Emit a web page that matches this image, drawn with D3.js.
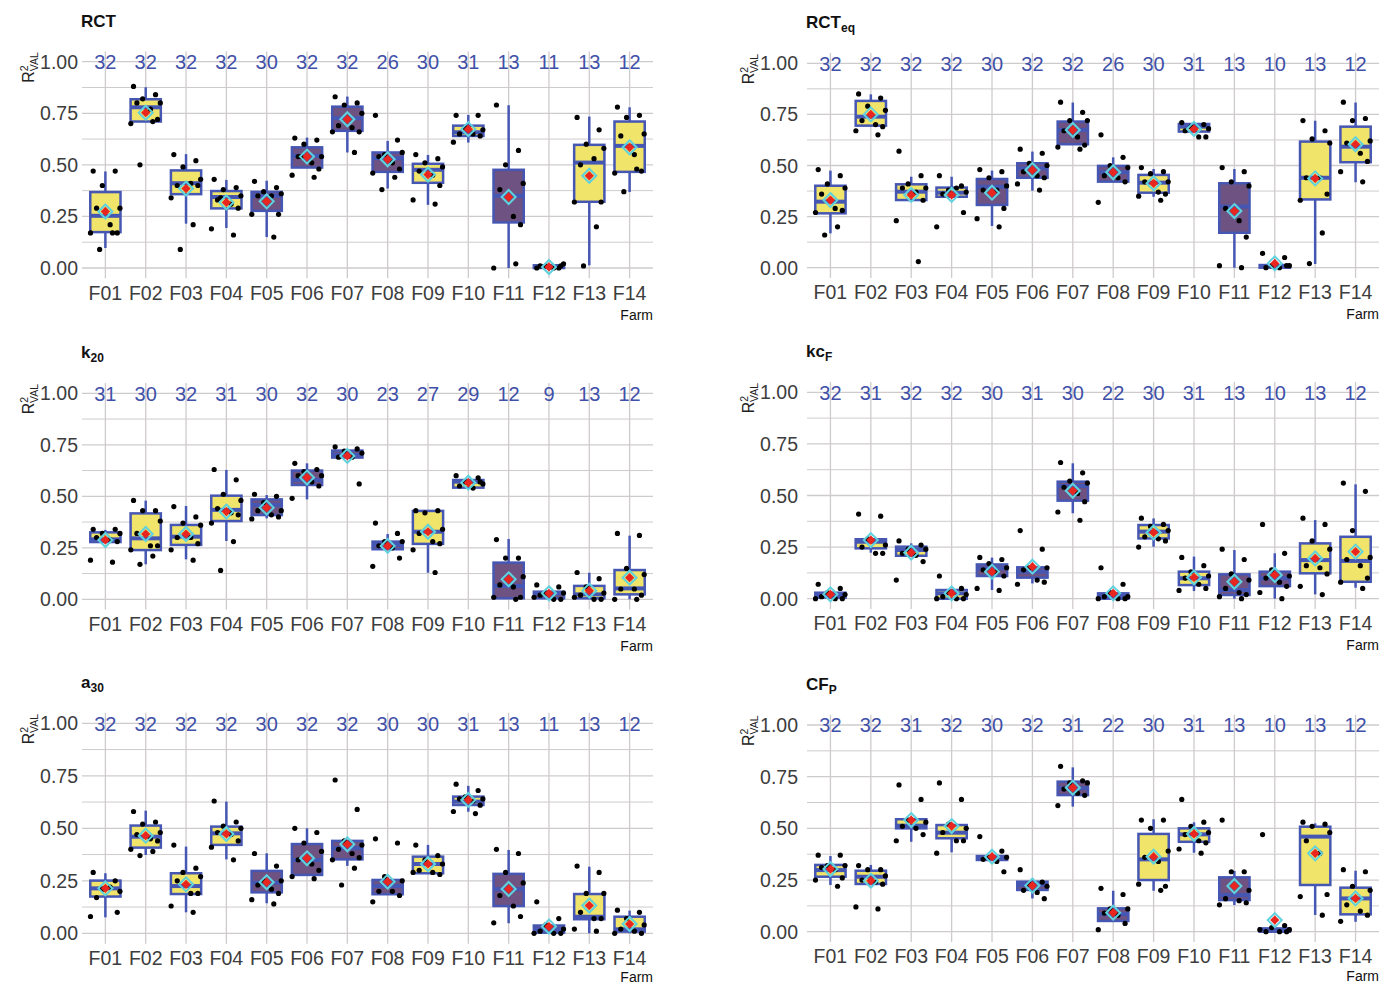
<!DOCTYPE html>
<html><head><meta charset="utf-8">
<script src="https://cdn.jsdelivr.net/npm/d3@7"></script>
<style>body{margin:0;background:#fff}</style>
</head><body>
<svg id="chart" width="1390" height="986"></svg>
<script>
// ---------------- DATA ----------------
const farms = ["F01","F02","F03","F04","F05","F06","F07","F08","F09","F10","F11","F12","F13","F14"];
const farmGroup = ["Y","Y","Y","Y","P","P","P","P","Y","Y","P","P","Y","Y"];
const yTicks = [0, 0.25, 0.5, 0.75, 1];
const yTickLabels = ["0.00","0.25","0.50","0.75","1.00"];
const yMinor = [0.125, 0.375, 0.625, 0.875];
const xAxisTitle = "Farm";

// stats per farm: [lowerWhisker, q1, median, q3, upperWhisker, mean]
const rctCounts = [32,32,32,32,30,32,32,26,30,31,13,11,13,12];
const rctStats = [
  [0.097,0.174,0.253,0.368,0.468,0.274],[0.71,0.71,0.779,0.818,0.876,0.753],[0.215,0.358,0.411,0.473,0.552,0.385],
  [0.194,0.289,0.344,0.373,0.427,0.318],[0.15,0.277,0.35,0.369,0.423,0.323],[0.487,0.487,0.544,0.585,0.632,0.54],
  [0.56,0.665,0.726,0.782,0.831,0.721],[0.385,0.466,0.532,0.56,0.616,0.527],[0.306,0.413,0.476,0.505,0.548,0.453],
  [0.608,0.64,0.658,0.69,0.742,0.673],[0,0.221,0.35,0.476,0.789,0.344],[0,0,0.008,0.013,0.013,0.005],
  [0.013,0.321,0.511,0.597,0.734,0.447],[0.368,0.466,0.592,0.71,0.779,0.585]];
const rctPoints = [
  [0.47,0.47,0.40,0.29,0.29,0.21,0.17,0.17,0.17,0.09],[0.88,0.84,0.82,0.80,0.80,0.77,0.72,0.70,0.71,0.50],
  [0.55,0.52,0.49,0.43,0.40,0.41,0.40,0.34,0.21,0.09],[0.43,0.39,0.38,0.35,0.33,0.31,0.29,0.19,0.16,0.34],
  [0.42,0.39,0.37,0.36,0.35,0.35,0.26,0.26,0.15],[0.63,0.62,0.60,0.54,0.54,0.51,0.48,0.45,0.44,0.54],
  [0.83,0.80,0.79,0.75,0.69,0.68,0.66,0.66,0.56],[0.74,0.62,0.55,0.56,0.54,0.51,0.48,0.46,0.44,0.38],
  [0.55,0.53,0.51,0.49,0.47,0.45,0.40,0.33,0.31],[0.74,0.74,0.68,0.67,0.65,0.65,0.64,0.61],
  [0.79,0.57,0.50,0.41,0.38,0.25,0.21,0.00,0.02],[0.00,0.00,0.01,0.02,0.01,0.00,0.01],
  [0.73,0.67,0.60,0.58,0.50,0.53,0.32,0.32,0.20,0.01],[0.78,0.74,0.73,0.65,0.64,0.55,0.47,0.46,0.48,0.37]];

const rcteqCounts = [32,32,32,32,30,32,32,26,30,31,13,10,13,12];
const rcteqStats = [
  [0.168,0.266,0.323,0.401,0.475,0.331],[0.695,0.695,0.739,0.816,0.848,0.75],[0.331,0.331,0.372,0.408,0.445,0.356],
  [0.347,0.347,0.367,0.392,0.445,0.356],[0.204,0.307,0.396,0.434,0.475,0.367],[0.377,0.44,0.486,0.511,0.568,0.478],
  [0.604,0.604,0.674,0.715,0.808,0.674],[0.421,0.421,0.467,0.498,0.54,0.467],[0.347,0.367,0.416,0.454,0.483,0.413],
  [0.666,0.666,0.69,0.703,0.706,0.679],[0,0.171,0.299,0.413,0.483,0.277],[0,0,0.008,0.013,0.013,0.021],
  [0.018,0.334,0.44,0.617,0.719,0.437],[0.418,0.516,0.592,0.69,0.808,0.604]];
const rcteqPoints = [
  [0.48,0.45,0.41,0.39,0.36,0.29,0.28,0.27,0.20,0.16],[0.85,0.83,0.79,0.77,0.72,0.70,0.69,0.67,0.65],
  [0.57,0.45,0.41,0.39,0.39,0.37,0.33,0.23,0.03],[0.45,0.40,0.38,0.37,0.36,0.39,0.27,0.20],
  [0.48,0.47,0.44,0.40,0.38,0.38,0.29,0.24,0.20],[0.58,0.56,0.51,0.50,0.47,0.45,0.44,0.41,0.38],
  [0.81,0.76,0.72,0.72,0.67,0.64,0.60,0.59,0.58],[0.65,0.54,0.50,0.49,0.45,0.44,0.42,0.32],
  [0.49,0.47,0.46,0.42,0.42,0.37,0.36,0.35,0.33],[0.71,0.70,0.69,0.68,0.67,0.64,0.64],
  [0.49,0.47,0.42,0.40,0.29,0.23,0.15,0.01,0.00],[0.07,0.05,0.01,0.01,0.00,0.00,0.01],
  [0.72,0.67,0.63,0.61,0.44,0.44,0.36,0.33,0.17,0.02],[0.81,0.73,0.72,0.62,0.61,0.56,0.52,0.47,0.42]];

const k20Counts = [31,30,32,31,30,32,30,23,27,29,12,9,13,12];
const k20Stats = [
  [0.278,0.278,0.291,0.325,0.337,0.288],[0.17,0.239,0.296,0.417,0.479,0.317],[0.194,0.264,0.304,0.361,0.453,0.317],
  [0.283,0.38,0.434,0.503,0.628,0.426],[0.393,0.409,0.458,0.485,0.506,0.445],[0.485,0.555,0.579,0.625,0.66,0.591],
  [0.688,0.688,0.701,0.722,0.722,0.696],[0.243,0.243,0.264,0.28,0.317,0.259],[0.129,0.269,0.328,0.429,0.429,0.328],
  [0.542,0.542,0.571,0.579,0.579,0.566],[0.005,0.005,0.065,0.178,0.293,0.097],[0.005,0.005,0.029,0.037,0.037,0.029],
  [0,0.005,0.024,0.065,0.129,0.042],[0,0.024,0.053,0.142,0.309,0.105]];
const k20Points = [
  [0.34,0.34,0.32,0.32,0.30,0.29,0.28,0.19,0.18],[0.48,0.43,0.43,0.38,0.32,0.26,0.26,0.24,0.21,0.17],
  [0.45,0.40,0.37,0.36,0.30,0.30,0.27,0.24,0.19],[0.63,0.58,0.51,0.48,0.44,0.42,0.41,0.37,0.28,0.14],
  [0.51,0.50,0.47,0.43,0.43,0.41,0.40,0.39],[0.66,0.63,0.62,0.60,0.60,0.57,0.55,0.49],
  [0.74,0.73,0.72,0.71,0.69,0.69,0.56],[0.37,0.32,0.28,0.28,0.26,0.25,0.20,0.16],
  [0.43,0.43,0.42,0.34,0.32,0.28,0.27,0.24,0.13],[0.60,0.59,0.57,0.56,0.55,0.54,0.57],
  [0.29,0.20,0.20,0.11,0.07,0.06,0.01,0.01,0.00],[0.07,0.06,0.03,0.03,0.02,0.00,0.00,0.01],
  [0.13,0.10,0.06,0.03,0.02,0.00,0.00,0.01],[0.32,0.31,0.15,0.12,0.05,0.05,0.02,0.00,0.00]];

const kcfCounts = [32,31,32,32,30,31,30,22,30,31,13,10,13,12];
const kcfStats = [
  [0,0.005,0.018,0.029,0.029,0.021],[0.223,0.244,0.276,0.288,0.30,0.284],[0.208,0.208,0.236,0.252,0.268,0.223],
  [0,0,0.026,0.042,0.042,0.026],[0.042,0.11,0.147,0.166,0.199,0.131],[0.074,0.102,0.131,0.152,0.152,0.155],
  [0.414,0.475,0.546,0.567,0.656,0.523],[0,0,0.013,0.026,0.026,0.026],[0.252,0.292,0.325,0.357,0.389,0.321],
  [0.037,0.066,0.099,0.131,0.204,0.103],[0,0.018,0.042,0.118,0.236,0.082],[0,0.061,0.099,0.131,0.22,0.115],
  [0.021,0.123,0.187,0.268,0.381,0.195],[0.053,0.082,0.183,0.30,0.554,0.228]];
const kcfPoints = [
  [0.07,0.05,0.03,0.02,0.01,0.00,0.00,0.00],[0.41,0.40,0.29,0.26,0.25,0.22,0.22],
  [0.28,0.26,0.24,0.24,0.22,0.21,0.18,0.09],[0.11,0.05,0.03,0.02,0.01,0.00,0.00,0.00],
  [0.20,0.19,0.17,0.15,0.14,0.13,0.11,0.05,0.04],[0.33,0.24,0.15,0.15,0.14,0.09,0.08,0.07],
  [0.66,0.61,0.57,0.56,0.54,0.51,0.47,0.42,0.38],[0.15,0.07,0.03,0.01,0.01,0.00,0.00,0.00],
  [0.39,0.36,0.35,0.33,0.30,0.29,0.28,0.25],[0.20,0.16,0.13,0.11,0.10,0.07,0.05,0.04],
  [0.24,0.19,0.12,0.09,0.05,0.03,0.02,0.01,0.00],[0.36,0.22,0.14,0.11,0.10,0.08,0.06,0.03,0.00],
  [0.39,0.36,0.28,0.24,0.16,0.15,0.12,0.06,0.02],[0.56,0.52,0.33,0.20,0.19,0.16,0.10,0.08,0.05]];

const a30Counts = [32,32,32,32,30,32,32,30,30,31,13,11,13,12];
const a30Stats = [
  [0.076,0.175,0.214,0.251,0.286,0.214],[0.373,0.408,0.46,0.513,0.584,0.465],[0.10,0.187,0.225,0.286,0.413,0.233],
  [0.352,0.421,0.476,0.508,0.627,0.473],[0.143,0.195,0.241,0.297,0.381,0.243],[0.278,0.278,0.349,0.425,0.50,0.357],
  [0.321,0.352,0.405,0.44,0.44,0.424],[0.186,0.186,0.225,0.254,0.267,0.246],[0.286,0.286,0.33,0.365,0.421,0.33],
  [0.579,0.611,0.627,0.651,0.702,0.635],[0.048,0.13,0.21,0.283,0.397,0.211],[0.003,0.003,0.019,0.037,0.037,0.032],
  [0,0.067,0.079,0.187,0.317,0.132],[0,0.008,0.019,0.079,0.108,0.044]];
const a30Points = [
  [0.29,0.25,0.21,0.20,0.17,0.22,0.10,0.08],[0.58,0.53,0.52,0.48,0.47,0.45,0.44,0.40,0.39,0.37],
  [0.42,0.31,0.29,0.27,0.25,0.19,0.19,0.13,0.10],[0.63,0.53,0.51,0.50,0.48,0.47,0.44,0.41,0.35],
  [0.38,0.32,0.25,0.25,0.23,0.21,0.19,0.16,0.14],[0.50,0.48,0.43,0.39,0.35,0.33,0.30,0.27,0.26],
  [0.73,0.59,0.44,0.42,0.40,0.38,0.36,0.35,0.31,0.23],[0.45,0.43,0.27,0.25,0.20,0.20,0.18,0.15],
  [0.42,0.37,0.35,0.33,0.30,0.29,0.28,0.29],[0.71,0.68,0.65,0.64,0.64,0.63,0.61,0.58,0.57],
  [0.40,0.38,0.29,0.24,0.18,0.13,0.08,0.05],[0.15,0.07,0.04,0.02,0.01,0.00,0.00,0.00],
  [0.32,0.29,0.19,0.19,0.10,0.07,0.07,0.02,0.01],[0.11,0.10,0.07,0.04,0.02,0.01,0.00,0.00]];

const cfpCounts = [32,32,31,32,30,32,31,22,30,31,13,10,13,12];
const cfpStats = [
  [0.226,0.266,0.298,0.323,0.366,0.303],[0.231,0.231,0.266,0.295,0.323,0.247],[0.435,0.50,0.513,0.544,0.544,0.54],
  [0.384,0.452,0.479,0.516,0.516,0.511],[0.347,0.347,0.358,0.366,0.366,0.363],[0.161,0.202,0.226,0.242,0.258,0.223],
  [0.605,0.661,0.694,0.726,0.795,0.697],[0.052,0.052,0.085,0.113,0.198,0.092],[0.198,0.25,0.35,0.473,0.544,0.363],
  [0.382,0.435,0.471,0.50,0.529,0.473],[0.129,0.153,0.177,0.263,0.294,0.221],[0,0,0.005,0.016,0.016,0.056],
  [0.081,0.226,0.46,0.508,0.524,0.379],[0.048,0.084,0.161,0.213,0.295,0.161]];
const cfpPoints = [
  [0.37,0.37,0.32,0.32,0.31,0.30,0.26,0.25,0.22],[0.32,0.30,0.30,0.27,0.25,0.24,0.23,0.12,0.11],
  [0.71,0.64,0.54,0.53,0.51,0.50,0.47,0.44],[0.72,0.64,0.52,0.50,0.48,0.44,0.44,0.38],
  [0.46,0.39,0.36,0.36,0.35,0.34,0.29],[0.30,0.24,0.23,0.22,0.20,0.19,0.16],
  [0.80,0.73,0.72,0.72,0.69,0.67,0.66,0.61],[0.21,0.18,0.11,0.11,0.09,0.08,0.04,0.01],
  [0.54,0.54,0.50,0.39,0.36,0.34,0.22,0.23,0.20],[0.64,0.53,0.51,0.48,0.47,0.44,0.43,0.40,0.38],
  [0.54,0.29,0.29,0.20,0.16,0.15,0.14,0.13],[0.47,0.03,0.02,0.01,0.00,0.00,0.00,0.01],
  [0.53,0.52,0.51,0.48,0.44,0.38,0.18,0.17,0.08],[0.30,0.29,0.22,0.20,0.13,0.10,0.08,0.05]];

const panelTitles = [["RCT",""],["RCT","eq"],["k","20"],["kc","F"],["a","30"],["CF","P"]];

// ---------------- LAYOUT / STYLE ----------------
const panels = [
  {title: panelTitles[0], counts: rctCounts,   stats: rctStats,   points: rctPoints},
  {title: panelTitles[1], counts: rcteqCounts, stats: rcteqStats, points: rcteqPoints},
  {title: panelTitles[2], counts: k20Counts,   stats: k20Stats,   points: k20Points},
  {title: panelTitles[3], counts: kcfCounts,   stats: kcfStats,   points: kcfPoints},
  {title: panelTitles[4], counts: a30Counts,   stats: a30Stats,   points: a30Points},
  {title: panelTitles[5], counts: cfpCounts,   stats: cfpStats,   points: cfpPoints}
];
const frames = [
  {x0:82,  x1:653,  yOne:61.7,  yZero:268.0, tickGap:4, rX:34, farmDy:46.5},
  {x0:807, x1:1379, yOne:63.3,  yZero:267.7, tickGap:9, rX:754, farmDy:46.5},
  {x0:82,  x1:653,  yOne:393.3, yZero:599.3, tickGap:4, rX:34, farmDy:46.5},
  {x0:807, x1:1379, yOne:392.3, yZero:598.7, tickGap:9, rX:754, farmDy:46.5},
  {x0:82,  x1:653,  yOne:723.3, yZero:933.3, tickGap:4, rX:34, farmDy:43.5},
  {x0:807, x1:1379, yOne:725.0, yZero:931.7, tickGap:9, rX:754, farmDy:44.5}
];
const FONT = "'Liberation Sans', Arial, Helvetica, sans-serif";
const BLUE = "#4657b3";
const COUNT_BLUE = "#3f50a8";
const FILLS = {Y: "#f1e46a", P: "#6e5281"};
const GRID = "#cfcbcd";
const TICK_COL = "#3d3d3d";
const jitterPattern = [-0.72, 0.58, -0.18, 0.86, -0.52, 0.28, 0.7, -0.88, 0.42, -0.34, 0.12, -0.62];

const svg = d3.select("#chart");

function diamond(r){ return `M0,${-r}L${r},0L0,${r}L${-r},0Z`; }

panels.forEach((p, pi) => {
  const f = frames[pi];
  const x = d3.scalePoint().domain(farms).range([f.x0, f.x1]).padding(0.58);
  const y = d3.scaleLinear().domain([0, 1]).range([f.yZero, f.yOne]);
  const step = x.step();
  const bw = step * 0.75;
  const g = svg.append("g");

  const top = y(1.05), bottom = y(-0.05);

  g.selectAll("line.minor").data(yMinor).join("line")
    .attr("x1", f.x0).attr("x2", f.x1).attr("y1", d => y(d)).attr("y2", d => y(d))
    .attr("stroke", GRID).attr("stroke-width", 1);
  g.selectAll("line.major").data(yTicks).join("line")
    .attr("x1", f.x0).attr("x2", f.x1).attr("y1", d => y(d)).attr("y2", d => y(d))
    .attr("stroke", GRID).attr("stroke-width", 1.3);
  g.selectAll("line.vg").data(farms).join("line")
    .attr("x1", d => x(d)).attr("x2", d => x(d)).attr("y1", top).attr("y2", bottom)
    .attr("stroke", GRID).attr("stroke-width", 1.3);

  g.selectAll("text.yt").data(yTicks).join("text")
    .attr("x", f.x0 - f.tickGap).attr("y", d => y(d)).attr("dy", "0.36em")
    .attr("text-anchor", "end").attr("font-family", FONT).attr("font-size", 19.5)
    .attr("fill", TICK_COL).text((d, i) => yTickLabels[i]);

  g.selectAll("text.xt").data(farms).join("text")
    .attr("x", d => x(d)).attr("y", f.yZero + 24.5).attr("dy", "0.36em")
    .attr("text-anchor", "middle").attr("font-family", FONT).attr("font-size", 19.5)
    .attr("fill", TICK_COL).text(d => d);

  g.append("text").attr("x", f.x1).attr("y", f.yZero + f.farmDy).attr("dy", "0.36em")
    .attr("text-anchor", "end").attr("font-family", FONT).attr("font-size", 14)
    .attr("fill", "#111").text(xAxisTitle);

  const t = g.append("text").attr("x", f.x0 - 1).attr("y", f.yOne - 41).attr("dy", "0.36em")
    .attr("font-family", FONT).attr("font-size", 17).attr("font-weight", "bold").attr("fill", "#111");
  t.append("tspan").text(p.title[0]);
  if (p.title[1]) t.append("tspan").attr("font-size", 12).attr("dy", 4).text(p.title[1]);

  const yt = g.append("text")
    .attr("transform", `translate(${f.rX},${f.yOne + 21}) rotate(-90)`)
    .attr("font-family", FONT).attr("font-size", 16).attr("fill", "#222");
  yt.append("tspan").text("R");
  yt.append("tspan").attr("font-size", 10.5).attr("dy", -6.5).text("2");
  yt.append("tspan").attr("font-size", 10.5).attr("dx", -6).attr("dy", 10.5).text("VAL");

  const data = farms.map((fm, i) => ({farm: fm, s: p.stats[i], grp: farmGroup[i], pts: p.points[i], n: p.counts[i]}));
  const bg = g.selectAll("g.box").data(data).join("g");
  bg.append("line").attr("x1", d => x(d.farm)).attr("x2", d => x(d.farm))
    .attr("y1", d => y(d.s[0])).attr("y2", d => y(d.s[1]))
    .attr("stroke", BLUE).attr("stroke-width", 2.5);
  bg.append("line").attr("x1", d => x(d.farm)).attr("x2", d => x(d.farm))
    .attr("y1", d => y(d.s[3])).attr("y2", d => y(d.s[4]))
    .attr("stroke", BLUE).attr("stroke-width", 2.5);
  bg.append("rect").attr("x", d => x(d.farm) - bw / 2).attr("width", bw)
    .attr("y", d => y(d.s[3])).attr("height", d => Math.max(0.5, y(d.s[1]) - y(d.s[3])))
    .attr("fill", d => FILLS[d.grp]).attr("stroke", BLUE).attr("stroke-width", 2.5);
  bg.append("line").attr("x1", d => x(d.farm) - bw / 2).attr("x2", d => x(d.farm) + bw / 2)
    .attr("y1", d => y(d.s[2])).attr("y2", d => y(d.s[2]))
    .attr("stroke", BLUE).attr("stroke-width", 4);
  bg.each(function(d) {
    d3.select(this).selectAll("circle").data(d.pts).join("circle")
      .attr("cx", (v, j) => x(d.farm) + jitterPattern[j % jitterPattern.length] * step * 0.42)
      .attr("cy", v => y(v)).attr("r", 2.6).attr("fill", "#000");
  });
  bg.append("path").attr("d", diamond(7))
    .attr("transform", d => `translate(${x(d.farm)},${y(d.s[5])})`)
    .attr("fill", "none").attr("stroke", "#5fd2de").attr("stroke-width", 2);
  bg.append("path").attr("d", diamond(4.6))
    .attr("transform", d => `translate(${x(d.farm)},${y(d.s[5])})`)
    .attr("fill", "#e8251f");

  g.selectAll("text.cnt").data(data).join("text")
    .attr("x", d => x(d.farm)).attr("y", y(1)).attr("dy", "0.36em")
    .attr("text-anchor", "middle").attr("font-family", FONT).attr("font-size", 20)
    .attr("fill", COUNT_BLUE).text(d => d.n);
});
</script>
</body></html>
